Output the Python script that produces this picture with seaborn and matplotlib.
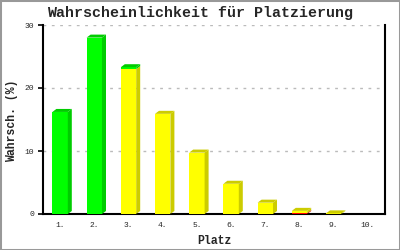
import numpy as np
import pandas as pd
import seaborn as sns
import matplotlib
matplotlib.use("Agg")
import matplotlib.pyplot as plt
from matplotlib.patches import Polygon, Rectangle

# ---- data ----
places = ["1.", "2.", "3.", "4.", "5.", "6.", "7.", "8.", "9.", "10."]
green = [16.2, 28.0, 0.3, 0.0, 0.0, 0.0, 0.0, 0.0, 0.0, 0.0]
yellow = [0.0, 0.0, 23.0, 15.9, 9.75, 4.8, 1.8, 0.35, 0.1, 0.0]
red = [0.0, 0.0, 0.0, 0.0, 0.0, 0.0, 0.0, 0.15, 0.0, 0.0]
yticks = [0, 10, 20, 30]

GREEN, GREEN_D = "#00FF00", "#00CC00"
YELLOW, YELLOW_D = "#FFFF00", "#CCCC00"
RED, RED_D = "#FF0000", "#CC0000"

sns.set_theme(style="white")
plt.rcParams["font.family"] = ["Liberation Mono", "DejaVu Sans Mono"]

W, H = 400, 250
fig = plt.figure(figsize=(W / 100, H / 100), dpi=100)
ax = fig.add_axes([43 / W, 36 / H, 342 / W, 189 / H])

r = np.array(red)
ry = r + np.array(yellow)
tot = ry + np.array(green)
df = pd.DataFrame({"Platz": places, "total": tot, "ry": ry, "r": r})

for col, color in [("total", GREEN), ("ry", YELLOW), ("r", RED)]:
    sns.barplot(data=df, x="Platz", y=col, order=places, color=color,
                saturation=1, width=0.45, linewidth=0, ax=ax, zorder=3)

ax.set_xlim(-0.5, len(places) - 0.5)
ax.set_ylim(0, 30)

# 3D faces
px_x = (len(places)) / 342.0   # data units per pixel (x)
px_y = 30 / 189.0              # data units per pixel (y)
dx, dy = 4 * px_x, 3 * px_y
front = ax.patches[:len(places)]
segs = [(np.zeros_like(r), r, RED_D), (r, ry, YELLOW_D), (ry, tot, GREEN_D)]
for i, p in enumerate(front):
    x0, w = p.get_x(), p.get_width()
    x1 = x0 + w
    top_col = None
    for b, t, dc in segs:
        if t[i] > b[i]:
            y0, y1 = b[i], t[i]
            ax.add_patch(Polygon([(x1, y0), (x1 + dx, y0 + dy), (x1 + dx, y1 + dy), (x1, y1)],
                                 closed=True, facecolor=dc, edgecolor="none", zorder=3))
            top_col = dc
    if top_col is not None:
        yt = tot[i]
        ax.add_patch(Polygon([(x0, yt), (x0 + dx, yt + dy), (x1 + dx, yt + dy), (x1, yt)],
                             closed=True, facecolor=top_col, edgecolor="none", zorder=3))

# axes styling
for s in ["left", "bottom", "right"]:
    ax.spines[s].set_visible(True)
    ax.spines[s].set_color("black")
    ax.spines[s].set_linewidth(1.5)
ax.spines["top"].set_visible(False)

ax.set_yticks(yticks)
ax.set_yticklabels([str(v) for v in yticks])
ax.yaxis.grid(True, color="#BBBBBB", linestyle=(0, (2, 4)), linewidth=1, zorder=0)
ax.set_axisbelow(True)
ax.tick_params(axis="y", direction="out", length=3.6, width=1.2, color="black",
               labelsize=5.8, pad=3, left=True)
ax.tick_params(axis="x", length=0, labelsize=5.8, pad=6)

ax.set_xlabel("Platz", fontsize=8.3, fontweight="bold", labelpad=4)
ax.set_ylabel("Wahrsch. (%)", fontsize=8.3, fontweight="bold")
ax.yaxis.set_label_coords((18 - 43) / 342, 0.495)

fig.text(0.5, 1 - 13 / H, "Wahrscheinlichkeit für Platzierung", ha="center", va="center",
         fontsize=10.8, fontweight="bold")

fig.patches.append(Rectangle((0, 0), 1, 1, transform=fig.transFigure, fill=False,
                             edgecolor="#999999", linewidth=2.2, zorder=10))

fig.savefig("out.png", dpi=100)
